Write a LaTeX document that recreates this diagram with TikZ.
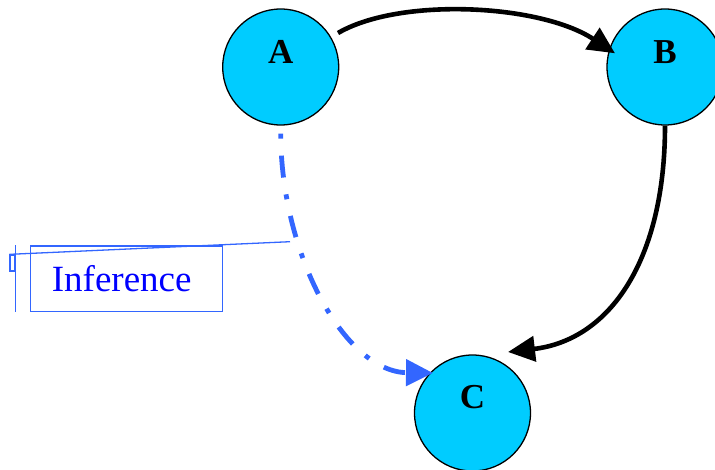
\documentclass[tikz,border=0pt]{standalone}
\usepackage{fontspec}
\setmainfont{Liberation Serif}
\usetikzlibrary{arrows.meta,calc}
\definecolor{nodecyan}{HTML}{00CCFF}
\definecolor{edgeblue}{HTML}{3366FF}
\definecolor{textblue}{HTML}{0000FF}
\begin{document}
\begin{tikzpicture}[x=1pt,y=-1pt,
  vertex/.style={circle,draw=black,line width=1.3pt,fill=nodecyan,minimum size=116pt,inner sep=0pt},
  vlabel/.style={font=\fontsize{35}{40}\selectfont\bfseries,text=black,inner sep=0pt},
  edge/.style={line width=4.6pt,draw=black,-{Triangle[length=27pt,width=25pt]}},
  inferedge/.style={line width=4.8pt,draw=edgeblue,dash pattern=on 5pt off 17pt on 22pt off 17pt,-{Triangle[length=27pt,width=26pt]}},
  notebox/.style={draw=edgeblue,line width=1.4pt,minimum width=192pt,minimum height=65.7pt,inner sep=0pt,text=textblue,font=\fontsize{37}{44}\selectfont},
  leader/.style={draw=edgeblue,line width=1.3pt}]
\useasboundingbox (0,0) rectangle (715,470);
\clip (0,0) rectangle (715,470);
\node[vertex,label={[vlabel,yshift=15pt]center:A}] (A) at (280.7,67) {};
\node[vertex,label={[vlabel,yshift=15pt]center:B}] (B) at (665,67) {};
\node[vertex,label={[vlabel,yshift=16pt]center:C}] (C) at (472.5,413) {};
\draw[edge] ($(A)+(57.3,-34)$) .. controls (400,-3) and (540,4) .. ($(B)+(-50,-13.7)$);
\draw[edge] (B.south) .. controls (665,260) and (610,340) .. ($(C)+(35.5,-61)$);
\draw[inferedge] ($(A.south)+(0,8)$) .. controls (281,255) and (345,372) .. ($(C)+(-39.5,-40)$);
\node[notebox] (note) at (126.7,278.9) {\hspace*{-10pt}Inference};
\node[leader,rectangle,minimum width=5pt,minimum height=16pt,inner sep=0pt] (tab) at (12.5,263) {};
\coordinate (pin) at (290,241.7);
\draw[leader] (pin) -- (tab.north west);
\draw[leader] (note.north west -| tab.east) -- (note.south west -| tab.east);
\end{tikzpicture}
\end{document}
